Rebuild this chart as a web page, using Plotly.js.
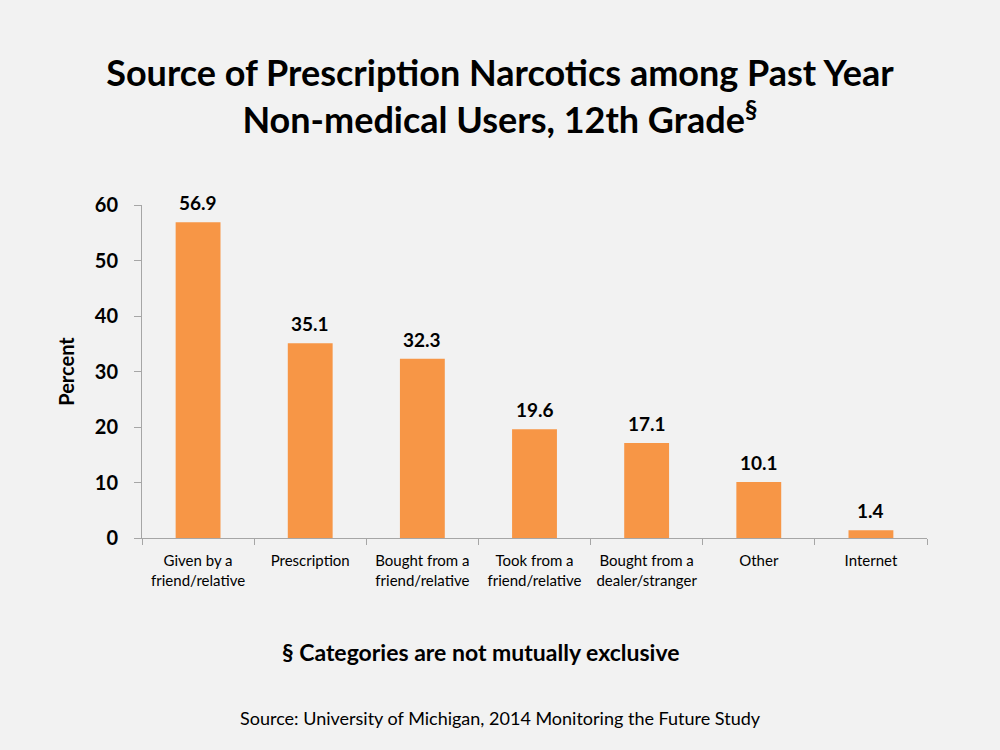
<!DOCTYPE html>
<html><head><meta charset="utf-8">
<script src="https://cdn.plot.ly/plotly-3.0.1.min.js"></script>
<style>body{margin:0;background:#F2F2F2}</style>
</head><body>
<div id="chart" style="width:1000px;height:750px"></div>
<script>
const categories = ["Given by a<br>friend/relative","Prescription","Bought from a<br>friend/relative","Took from a<br>friend/relative","Bought from a<br>dealer/stranger","Other","Internet"];
const values = [56.9, 35.1, 32.3, 19.6, 17.1, 10.1, 1.4];
const valueLabels = ["56.9","35.1","32.3","19.6","17.1","10.1","1.4"];
const yTicks = [0,10,20,30,40,50,60];

const font = "Lato, 'Open Sans', sans-serif";
const H = 750, T = 205, B = 212, plotH = H - T - B, y0 = H - B;

const labelAnnotations = categories.map((c, i) => ({
  x: c, y: values[i], xref: "x", yref: "y",
  text: "<b>" + valueLabels[i] + "</b>", showarrow: false,
  yanchor: "bottom", yshift: 6,
  font: {family: font, size: 19, color: "#000"}
}));

Plotly.newPlot("chart", [{
  type: "bar",
  x: categories,
  y: values,
  marker: {color: "#F79646"},
  width: 0.4,
  hoverinfo: "none"
}], {
  width: 1000, height: 750,
  paper_bgcolor: "#F2F2F2", plot_bgcolor: "#F2F2F2",
  margin: {l: 142, r: 73, t: T, b: B},
  showlegend: false,
  title: {
    text: "<b>Source of Prescription Narcotics among Past Year<br>Non-medical Users, 12th Grade<sup>§</sup></b>",
    font: {family: font, size: 36, color: "#000"},
    x: 0.5, xanchor: "center", y: 1 - 86/750, yanchor: "top"
  },
  xaxis: {
    showline: true, linecolor: "#A6A6A6", linewidth: 1,
    ticks: "outside", tickson: "boundaries", ticklen: 6, tickcolor: "#A6A6A6",
    tickfont: {family: font, size: 15, color: "#000"}, ticklabelstandoff: 9,
    showgrid: false, zeroline: false, fixedrange: true
  },
  yaxis: {
    range: [0, 60], tickvals: yTicks, ticktext: yTicks.map(v => "<b>" + v + "</b>"),
    showline: true, linecolor: "#A6A6A6", linewidth: 1,
    ticks: "outside", ticklen: 7, tickcolor: "#A6A6A6",
    tickfont: {family: font, size: 20, color: "#000"}, ticklabelstandoff: 12,
    showgrid: false, zeroline: false,
    title: {text: "<b>Percent</b>", font: {family: font, size: 20, color: "#000"}, standoff: 14}
  },
  annotations: labelAnnotations.concat([
    {text: "<b>§ Categories are not mutually exclusive</b>", xref: "paper", yref: "paper",
     x: (480-142)/785, y: (y0-652)/plotH, xanchor: "center", yanchor: "middle", showarrow: false,
     font: {family: font, size: 23, color: "#000"}},
    {text: "Source: University of Michigan, 2014 Monitoring the Future Study", xref: "paper", yref: "paper",
     x: (500-142)/785, y: (y0-718)/plotH, xanchor: "center", yanchor: "middle", showarrow: false,
     font: {family: font, size: 18, color: "#000"}}
  ])
}, {displayModeBar: false, staticPlot: true});
</script>
</body></html>
